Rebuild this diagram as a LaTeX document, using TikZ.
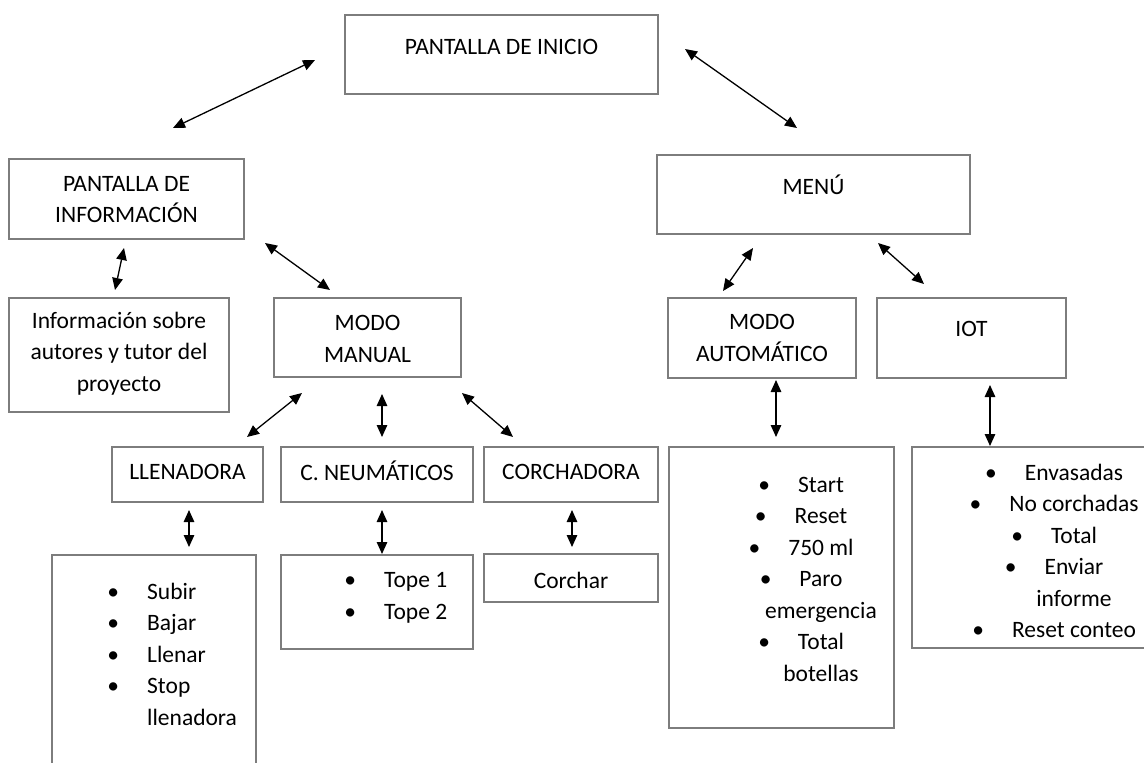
\documentclass[tikz,border=0pt]{standalone}
\usepackage{fontspec}
\setmainfont{Carlito}
\usetikzlibrary{arrows.meta}
\definecolor{boxgray}{RGB}{125,125,125}
\newcommand{\itm}{\llap{\textbullet\hspace{28pt}}}

\begin{document}
\begin{tikzpicture}[x=1pt, y=-1pt]
    \tikzset{box/.style={draw=boxgray, line width=2pt, inner sep=0pt},
             txt/.style={inner sep=0pt, align=center, font=\fontsize{23.5}{31.5}\selectfont},
             link/.style={{Triangle[length=12pt,width=10.5pt]}-{Triangle[length=12pt,width=10.5pt]}, line width=1.3pt}}
    \useasboundingbox (0,0) rectangle (1144,763);

    % Nivel 1
    \node[box, minimum width=313, minimum height=79] (inicio) at (501.5,54.5) {};
    \node[txt] (tinicio) at (501.5,47) {PANTALLA DE INICIO};

    % Nivel 2
    \node[box, minimum width=235, minimum height=80] (info) at (126.5,199) {};
    \node[txt] (tinfo) at (126.5,199.5) {PANTALLA DE\\ INFORMACIÓN};
    \node[box, minimum width=313, minimum height=79] (menu) at (813.5,194.5) {};
    \node[txt] (tmenu) at (813.5,185) {MENÚ};

    % Nivel 3
    \node[box, minimum width=220, minimum height=114] (autores) at (119,355) {};
    \node[txt] (tautores) at (119,353.5) {Información sobre\\ autores y tutor del\\ proyecto};
    \node[box, minimum width=187, minimum height=79] (manual) at (367.5,337.5) {};
    \node[txt] (tmanual) at (367.5,339) {MODO\\ MANUAL};
    \node[box, minimum width=188, minimum height=80] (auto) at (762,338) {};
    \node[txt] (tauto) at (762,338) {MODO\\ AUTOMÁTICO};
    \node[box, minimum width=189, minimum height=80] (iot) at (971.5,338) {};
    \node[txt] (tiot) at (971.5,329) {IOT};

    % Nivel 4
    \node[box, minimum width=151, minimum height=55] (llen) at (187.5,474.5) {};
    \node[txt] (tllen) at (187.5,472) {LLENADORA};
    \node[box, minimum width=192, minimum height=55] (neum) at (377,474.5) {};
    \node[txt] (tneum) at (377,470.5) {C. NEUMÁTICOS};
    \node[box, minimum width=174, minimum height=55] (corch) at (571,474.5) {};
    \node[txt] (tcorch) at (571,472) {CORCHADORA};

    % Listas
    \node[box, minimum width=204, minimum height=240] (listllen) at (154,675) {};
    \node[txt, anchor=west, align=left] (tlistllen) at (147,654) {\itm Subir\\ \itm Bajar\\ \itm Llenar\\ \itm Stop\\ llenadora};
    \node[box, minimum width=192, minimum height=94] (listneum) at (377,602) {};
    \node[txt, anchor=west, align=left] (tlistneum) at (384,598) {\itm Tope 1\\ \itm Tope 2};
    \node[box, minimum width=174, minimum height=48] (listcorch) at (571,578) {};
    \node[txt] (tlistcorch) at (571,580) {Corchar};
    \node[box, minimum width=225, minimum height=281] (listauto) at (781.5,587.5) {};
    \node[txt] (tlistauto) at (821,579) {\itm Start\\ \itm Reset\\ \itm 750 ml\\ \itm Paro\\ emergencia\\ \itm Total\\ botellas};
    \node[box, minimum width=248, minimum height=201] (listiot) at (1036,547.5) {};
    \node[txt] (tlistiot) at (1074,551) {\itm Envasadas\\ \itm No corchadas\\ \itm Total\\ \itm Enviar\\ informe\\ \itm Reset conteo};

    % Flechas
    \coordinate (ini-a) at (315,60);   \coordinate (info-a) at (173,128);
    \coordinate (ini-b) at (685,49);   \coordinate (menu-a) at (797,128);
    \coordinate (info-b) at (124,248); \coordinate (autores-a) at (115,290);
    \coordinate (info-c) at (265,243); \coordinate (manual-a) at (330,290);
    \coordinate (menu-b) at (753,248); \coordinate (auto-a) at (723,291);
    \coordinate (menu-c) at (878,243); \coordinate (iot-a) at (924,284);
    \coordinate (manual-b) at (302,393); \coordinate (llen-a) at (247,437);
    \coordinate (manual-c) at (382,394); \coordinate (neum-a) at (382,437);
    \coordinate (manual-d) at (462,393); \coordinate (corch-a) at (513,437);
    \coordinate (llen-b) at (189,510);  \coordinate (listllen-a) at (189,547);
    \coordinate (neum-b) at (382,510);  \coordinate (listneum-a) at (382,554);
    \coordinate (corch-b) at (572,510); \coordinate (listcorch-a) at (572,547);
    \coordinate (auto-b) at (776,380);  \coordinate (listauto-a) at (776,437);
    \coordinate (iot-b) at (990,385);   \coordinate (listiot-a) at (990,446);

    \draw[link] (ini-a) -- (info-a);
    \draw[link] (ini-b) -- (menu-a);
    \draw[link] (info-b) -- (autores-a);
    \draw[link] (info-c) -- (manual-a);
    \draw[link] (menu-b) -- (auto-a);
    \draw[link] (menu-c) -- (iot-a);
    \draw[link] (manual-b) -- (llen-a);
    \draw[link] (manual-c) -- (neum-a);
    \draw[link] (manual-d) -- (corch-a);
    \draw[link] (llen-b) -- (listllen-a);
    \draw[link] (neum-b) -- (listneum-a);
    \draw[link] (corch-b) -- (listcorch-a);
    \draw[link] (auto-b) -- (listauto-a);
    \draw[link] (iot-b) -- (listiot-a);
\end{tikzpicture}
\end{document}
